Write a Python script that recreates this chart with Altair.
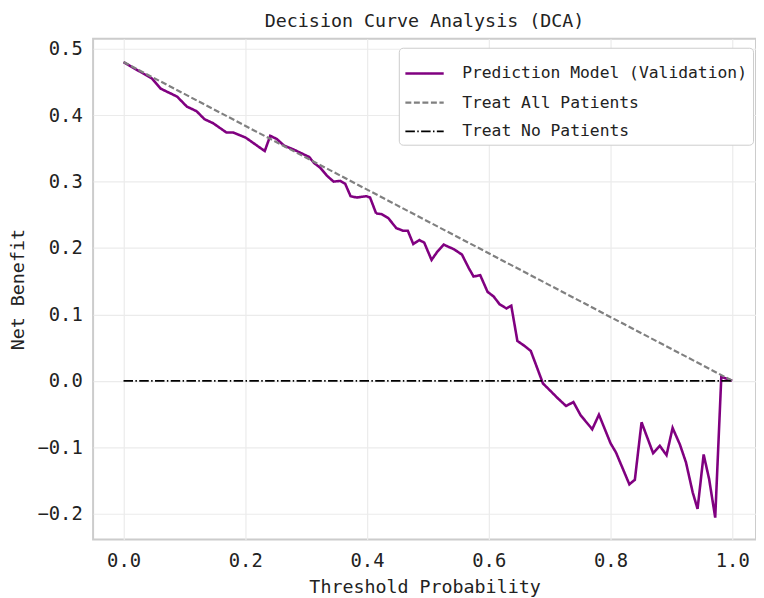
import altair as alt
import pandas as pd

FONT = "DejaVu Sans Mono"

series_names = ["Prediction Model (Validation)", "Treat All Patients", "Treat No Patients"]
series_colors = ["#800080", "#808080", "#000000"]
series_dash = [[1, 0], [6, 2.6], [9.6, 2.4, 1.5, 2.4]]
series_width = [2.6, 1.8, 1.8]

model_t = [0.0, 0.047, 0.061, 0.088, 0.104, 0.12, 0.133, 0.147, 0.169, 0.18,
           0.201, 0.232, 0.241, 0.252, 0.264, 0.28, 0.296, 0.305, 0.313, 0.323,
           0.334, 0.345, 0.356, 0.364, 0.373, 0.383, 0.399, 0.405, 0.415, 0.424,
           0.435, 0.448, 0.459, 0.467, 0.476, 0.486, 0.494, 0.506, 0.516, 0.526,
           0.543, 0.556, 0.567, 0.575, 0.586, 0.598, 0.608, 0.618, 0.629, 0.637,
           0.647, 0.658, 0.669, 0.678, 0.689, 0.700, 0.713, 0.727, 0.739, 0.751,
           0.770, 0.781, 0.8, 0.809, 0.831, 0.840, 0.851, 0.870, 0.881, 0.892,
           0.902, 0.914, 0.924, 0.935, 0.943, 0.953, 0.962, 0.972, 0.982, 1.0]
model_nb = [0.48, 0.455, 0.44, 0.428, 0.413, 0.406, 0.394, 0.388, 0.374, 0.374,
            0.366, 0.346, 0.369, 0.364, 0.354, 0.348, 0.341, 0.337, 0.328, 0.321,
            0.309, 0.300, 0.301, 0.297, 0.278, 0.276, 0.278, 0.276, 0.252, 0.251,
            0.245, 0.230, 0.226, 0.226, 0.206, 0.212, 0.208, 0.182, 0.195, 0.205,
            0.198, 0.19, 0.17, 0.157, 0.159, 0.134, 0.127, 0.115, 0.109, 0.113,
            0.060, 0.053, 0.045, 0.023, -0.004, -0.014, -0.026, -0.038, -0.032, -0.052,
            -0.073, -0.051, -0.094, -0.108, -0.156, -0.149, -0.0625, -0.109, -0.098, -0.112,
            -0.071, -0.096, -0.123, -0.168, -0.193, -0.111, -0.148, -0.206, 0.006, 0.0]

all_t = [0.0, 1.0]
all_nb = [0.48, 0.0]
none_t = [0.0, 1.0]
none_nb = [0.0, 0.0]

x_ticks = [0.0, 0.2, 0.4, 0.6, 0.8, 1.0]
y_ticks = [-0.2, -0.1, 0.0, 0.1, 0.2, 0.3, 0.4, 0.5]

rows = []
for i, (t, v) in enumerate(zip(model_t, model_nb)):
    rows.append({"t": t, "nb": v, "s": series_names[0], "o": i})
for i, (t, v) in enumerate(zip(all_t, all_nb)):
    rows.append({"t": t, "nb": v, "s": series_names[1], "o": i})
for i, (t, v) in enumerate(zip(none_t, none_nb)):
    rows.append({"t": t, "nb": v, "s": series_names[2], "o": i})
df = pd.DataFrame(rows)

chart = alt.Chart(df).mark_line(clip=True).encode(
    x=alt.X("t:Q", title="Threshold Probability",
            scale=alt.Scale(domain=[-0.05, 1.039], nice=False, zero=False),
            axis=alt.Axis(values=x_ticks, format=".1f")),
    y=alt.Y("nb:Q", title="Net Benefit",
            scale=alt.Scale(domain=[-0.239, 0.515], nice=False, zero=False),
            axis=alt.Axis(values=y_ticks, format=".1f")),
    color=alt.Color("s:N", title=None,
                    scale=alt.Scale(domain=series_names, range=series_colors),
                    legend=alt.Legend(orient="none", legendX=309, legendY=9)),
    strokeDash=alt.StrokeDash("s:N", title=None,
                              scale=alt.Scale(domain=series_names, range=series_dash)),
    strokeWidth=alt.StrokeWidth("s:N", legend=None,
                                scale=alt.Scale(domain=series_names, range=series_width)),
    order="o:Q",
).properties(
    width=670, height=506,
    title=alt.TitleParams("Decision Curve Analysis (DCA)", font=FONT, fontSize=18.5,
                          fontWeight="normal", color="#222222", offset=8),
    padding={"left": 0, "top": 1, "right": 0, "bottom": 0},
).configure_view(
    stroke="#cccccc", strokeWidth=2
).configure_axis(
    labelFont=FONT, titleFont=FONT, labelFontSize=19, titleFontSize=18.5,
    titleFontWeight="normal", labelColor="#222222", titleColor="#222222",
    grid=True, gridColor="#ebebeb", gridWidth=1.2,
    domain=False, ticks=False, labelPadding=11,
).configure_axisY(titlePadding=10).configure_axisX(titlePadding=8, labelPadding=12).configure_legend(
    labelFont=FONT, labelFontSize=16.5, labelColor="#222222", labelLimit=500,
    symbolType="stroke", symbolSize=1500, symbolStrokeWidth=2.5,
    fillColor="white", strokeColor="#cccccc", cornerRadius=4,
    padding=5, rowPadding=-24, labelOffset=17,
)

chart.save("out.html", embed_options={"renderer": "svg", "actions": False})
